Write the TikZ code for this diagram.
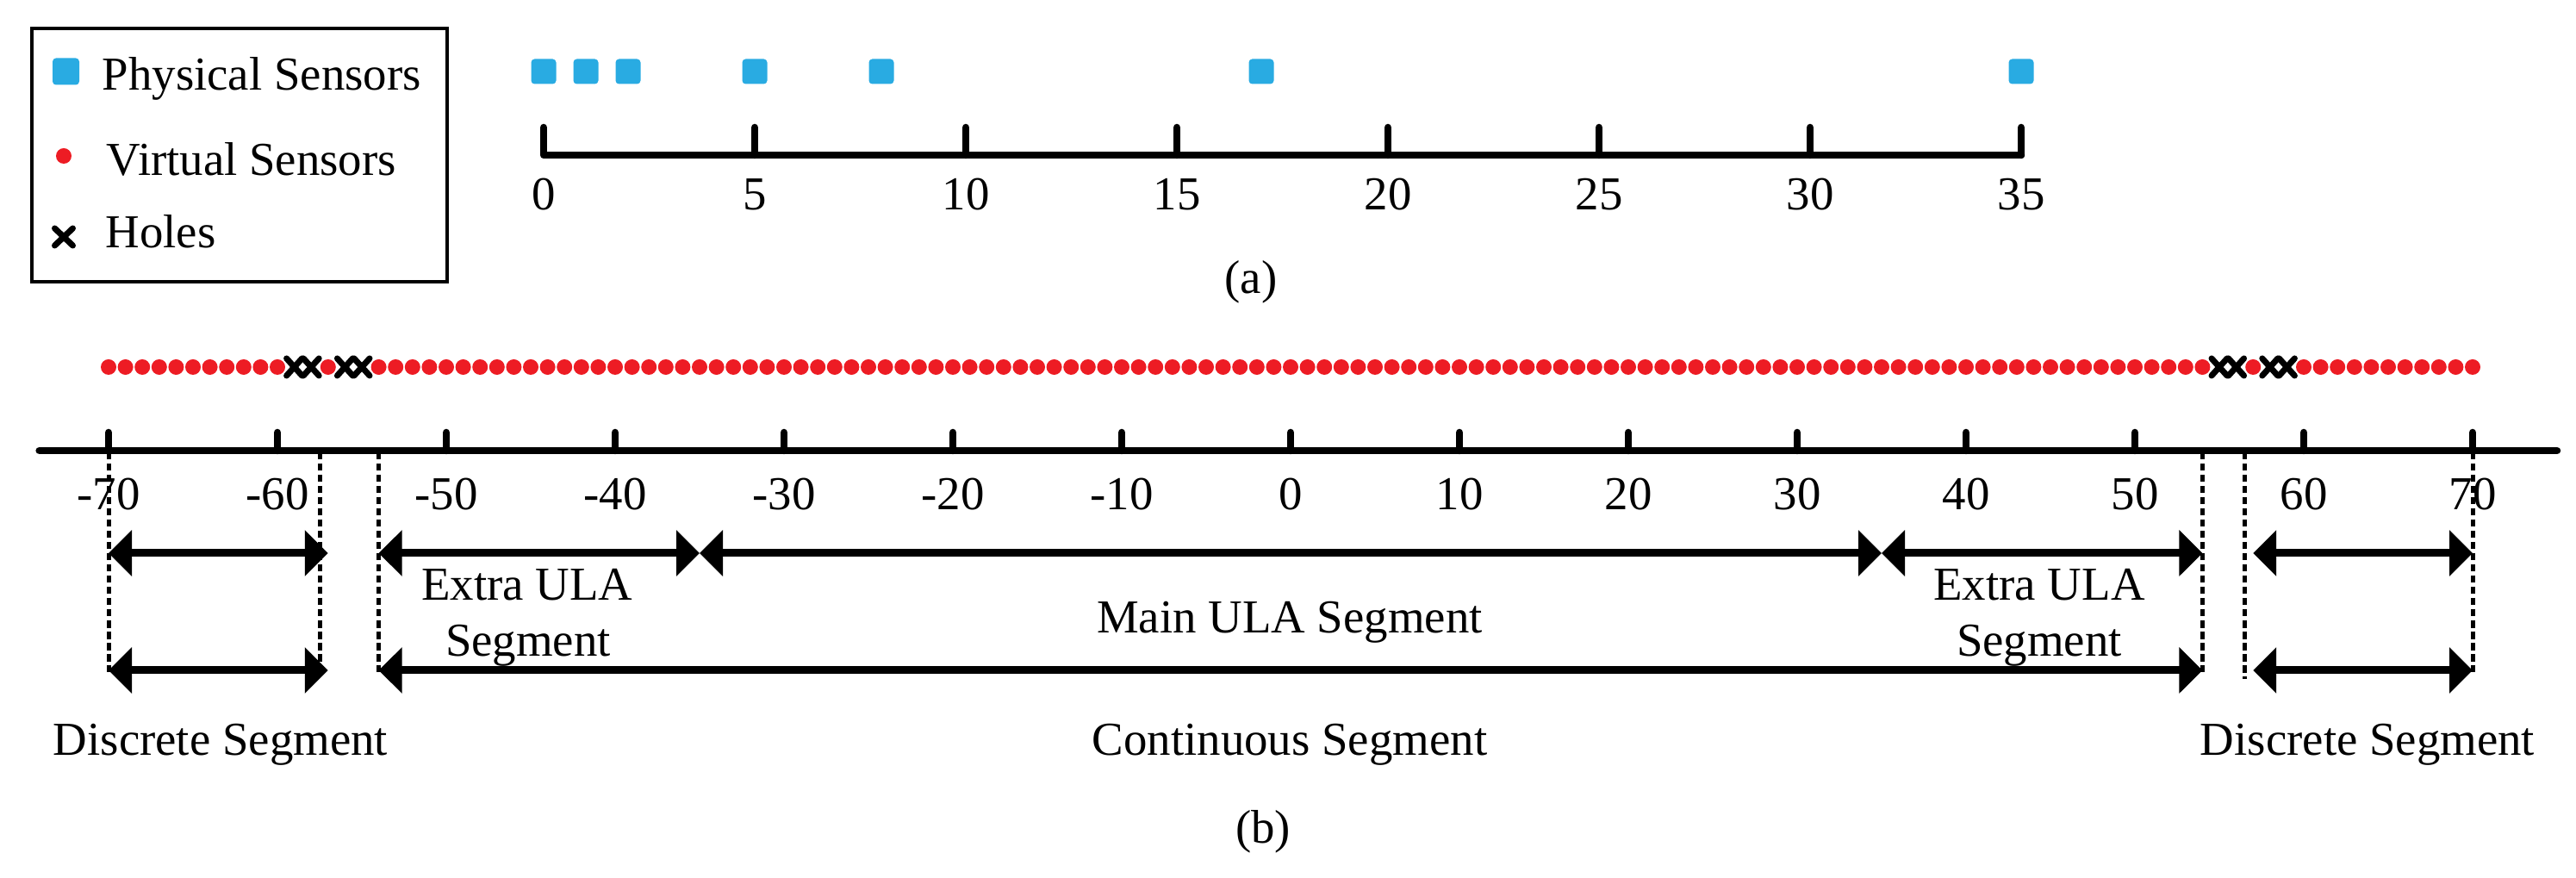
\documentclass[tikz,border=0pt]{standalone}
\usepackage{fontspec}
\setmainfont{Liberation Serif}
\usetikzlibrary{arrows.meta,shapes.misc}

\definecolor{physblue}{RGB}{41,171,226}
\definecolor{virtred}{RGB}{237,28,36}

\tikzset{
  axisline/.style={line width=0.085cm, line cap=round, line join=round},
  guide/.style={line width=0.05cm, dash pattern=on 0.085cm off 0.045cm},
  segarrow/.style={line width=0.09cm,
    {Triangle[length=0.27cm,width=0.52cm]}-{Triangle[length=0.27cm,width=0.52cm]}},
  lbl/.style={font=\fontsize{15.6}{18}\selectfont, inner sep=0pt, anchor=base},
  psensor/.style={fill=physblue, rounded corners=0.04cm, minimum size=0.29cm, inner sep=0pt},
  vsensor/.style={circle, fill=virtred, minimum size=0.18cm, inner sep=0pt},
  holemark/.style={cross out, draw, line width=0.07cm, line cap=round,
    minimum width=0.11cm, minimum height=0.13cm, inner sep=0pt},
}

\begin{document}
\begin{tikzpicture}
\useasboundingbox (0,0) rectangle (29.9,10.19);

% Legend
\node[draw, line width=0.035cm, minimum width=4.82cm, minimum height=2.94cm, inner sep=0pt] (legend) at (2.78,8.39) {};
\node[psensor, minimum size=0.31cm] (legphys) at (0.765,9.36) {};
\node[lbl, anchor=base west] (legphystxt) at (1.18,9.14) {Physical Sensors};
\node[vsensor] (legvirt) at (0.74,8.38) {};
\node[lbl, anchor=base west] (legvirttxt) at (1.23,8.15) {Virtual Sensors};
\node[holemark, minimum width=0.14cm] (leghole) at (0.74,7.44) {};
\node[lbl, anchor=base west] (legholetxt) at (1.22,7.31) {Holes};

% (a) physical array
\begin{scope}[xshift=6.31cm, x=0.49cm]
\draw[axisline] (0,8.71) -- (0,8.39) -- (35,8.39);
\foreach \t in {5,10,...,35}
  \draw[axisline] (\t,8.39) -- (\t,8.71);
\foreach \t in {0,5,...,35}
  \node[lbl] (ta\t) at (\t,7.75) {\t};
\foreach \p in {0,1,2,5,8,17,35}
  \node[psensor] (p\p) at (\p,9.36) {};
\end{scope}
\node[lbl] (capa) at (14.52,6.78) {(a)};

% (b) virtual array
\begin{scope}[xshift=14.98cm, x=0.196cm]
\foreach \v in {-70,-69,...,-60,-57,-54,-53,...,54,57,60,61,...,70}
  \node[vsensor] (v\v) at (\v,5.93) {};
\foreach \h in {-59,-58,-56,-55,55,56,58,59}
  \node[holemark] (h\h) at (\h,5.93) {};

\draw[axisline] (-74.1,4.96) -- (75,4.96);
\foreach \t in {-70,-60,...,70} {
  \draw[axisline] (\t,4.96) -- (\t,5.17);
  \node[lbl] (tb\t) at (\t,4.27) {\t};
}

% segment borders
\foreach \g/\e in {-70/2.39,-57.5/2.39,-54/2.39,54/2.39,56.5/2.31,70/2.39}
  \draw[guide] (\g,4.94) -- (\g,\e);

% segment arrows
\foreach \x in {-70,-57,-54,-35,35,54,57,70} {
  \coordinate (up\x) at (\x,3.77);
  \coordinate (lo\x) at (\x,2.41);
}
\foreach \s/\e in {-70/-57,-54/-35,-35/35,35/54,57/70}
  \draw[segarrow] (up\s) -- (up\e);
\foreach \s/\e in {-70/-57,-54/54,57/70}
  \draw[segarrow] (lo\s) -- (lo\e);
\end{scope}

% segment labels
\node[lbl] (extl) at (6.12,3.22) {Extra ULA};
\node[lbl] (extlb) at (6.13,2.57) {Segment};
\node[lbl] (mainula) at (14.97,2.84) {Main ULA Segment};
\node[lbl] (extr) at (23.67,3.22) {Extra ULA};
\node[lbl] (extrb) at (23.67,2.57) {Segment};
\node[lbl] (discl) at (2.56,1.42) {Discrete Segment};
\node[lbl] (cont) at (14.97,1.42) {Continuous Segment};
\node[lbl] (discr) at (27.48,1.42) {Discrete Segment};
\node[lbl] (capb) at (14.66,0.40) {(b)};

\end{tikzpicture}
\end{document}
